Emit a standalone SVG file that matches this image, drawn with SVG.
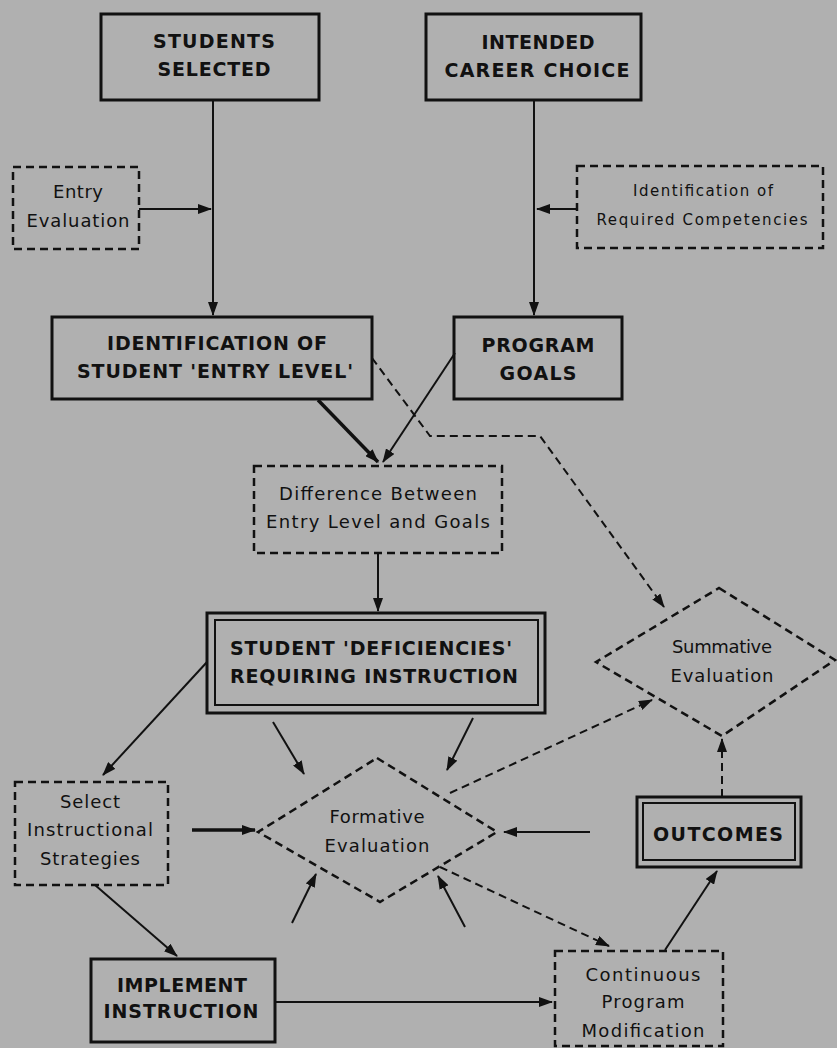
<svg xmlns="http://www.w3.org/2000/svg" width="837" height="1048" viewBox="0 0 837 1048">
<style>
.bg{fill:#b0b0b0}
.box{fill:none;stroke:#111;stroke-width:3}
.dbox{fill:none;stroke:#111;stroke-width:2.5;stroke-dasharray:8 5}
.in{fill:none;stroke:#111;stroke-width:2}
.c{fill:none;stroke:#111;stroke-width:2;marker-end:url(#ah)}
.ct{fill:none;stroke:#111;stroke-width:3.5;marker-end:url(#ah)}
.cd{fill:none;stroke:#111;stroke-width:2;stroke-dasharray:8 5;marker-end:url(#ah)}
text{font-family:"DejaVu Sans","Liberation Sans",sans-serif;fill:#111;text-anchor:middle}
.up{font-size:19px;font-weight:bold}
.lo{font-size:18px}
.sm{font-size:15px}
</style>
<defs>
<marker id="ah" markerUnits="userSpaceOnUse" markerWidth="14" markerHeight="10" refX="13" refY="5" orient="auto">
<path d="M0,0 L14,5 L0,10 z" fill="#111"/>
</marker>
</defs>
<rect class="bg" x="0" y="0" width="837" height="1048"/>

<g id="connectors">
<path class="c" d="M213,100 V315"/>
<path class="c" d="M139,209 H211"/>
<path class="c" d="M534,100 V315"/>
<path class="c" d="M577,209 H537"/>
<path class="ct" d="M318,400 L378,462"/>
<path class="c" d="M455,353 L383,462"/>
<path class="c" d="M378,553 V611"/>
<path class="c" d="M207,662 L103,775"/>
<path class="c" d="M95,885 L177,956"/>
<path class="c" d="M275,1002 H552"/>
<path class="ct" d="M192,830 H255"/>
<path class="c" d="M590,832 H504"/>
<path class="c" d="M273,722 L304,774"/>
<path class="c" d="M473,718 L447,770"/>
<path class="c" d="M292,923 L316,874"/>
<path class="c" d="M465,927 L438,876"/>
<path class="c" d="M665,950 L717,871"/>
<path class="cd" d="M372,358 L430,436 H540 L664,607"/>
<path class="cd" d="M450,793 L652,700"/>
<path class="cd" d="M440,867 L609,946"/>
<path class="cd" d="M722,797 V739"/>
</g>

<g id="students-selected">
<rect class="box" x="101" y="14" width="218" height="86"/>
<text class="up" x="214" y="48" textLength="122">STUDENTS</text>
<text class="up" x="214" y="76" textLength="113">SELECTED</text>
</g>

<g id="intended-career">
<rect class="box" x="426" y="14" width="215" height="86"/>
<text class="up" x="538" y="49" textLength="113">INTENDED</text>
<text class="up" x="537" y="77" textLength="185">CAREER CHOICE</text>
</g>

<g id="entry-evaluation">
<rect class="dbox" x="13" y="167" width="126" height="82"/>
<text class="lo" x="78" y="198" textLength="50">Entry</text>
<text class="lo" x="78" y="227" textLength="103">Evaluation</text>
</g>

<g id="required-competencies">
<rect class="dbox" x="577" y="166" width="246" height="82"/>
<text class="sm" x="703" y="196" textLength="140">Identification of</text>
<text class="sm" x="702" y="225" textLength="211">Required Competencies</text>
</g>

<g id="entry-level">
<rect class="box" x="52" y="317" width="320" height="82"/>
<text class="up" x="217" y="350" textLength="220">IDENTIFICATION OF</text>
<text class="up" x="215" y="378" textLength="276">STUDENT 'ENTRY LEVEL'</text>
</g>

<g id="program-goals">
<rect class="box" x="454" y="317" width="168" height="82"/>
<text class="up" x="538" y="352" textLength="113">PROGRAM</text>
<text class="up" x="538" y="380" textLength="77">GOALS</text>
</g>

<g id="difference">
<rect class="dbox" x="254" y="466" width="248" height="87"/>
<text class="lo" x="378" y="500" textLength="198">Difference Between</text>
<text class="lo" x="378" y="528" textLength="224">Entry Level and Goals</text>
</g>

<g id="deficiencies">
<rect class="box" x="207" y="613" width="338" height="100"/>
<rect class="in" x="215" y="620" width="323" height="85"/>
<text class="up" x="371" y="655" textLength="282">STUDENT 'DEFICIENCIES'</text>
<text class="up" x="374" y="683" textLength="288">REQUIRING INSTRUCTION</text>
</g>

<g id="summative">
<path class="dbox" d="M719,588 L835,660 L722,736 L596,662 Z"/>
<text class="lo" x="722" y="653" textLength="100">Summative</text>
<text class="lo" x="722" y="682" textLength="103">Evaluation</text>
</g>

<g id="formative">
<path class="dbox" d="M377,758 L497,832 L380,902 L258,832 Z"/>
<text class="lo" x="377" y="823" textLength="95">Formative</text>
<text class="lo" x="377" y="852" textLength="105">Evaluation</text>
</g>

<g id="select-strategies">
<rect class="dbox" x="15" y="782" width="153" height="103"/>
<text class="lo" x="90" y="808" textLength="60">Select</text>
<text class="lo" x="90" y="836" textLength="126">Instructional</text>
<text class="lo" x="90" y="865" textLength="100">Strategies</text>
</g>

<g id="outcomes">
<rect class="box" x="637" y="797" width="164" height="70"/>
<rect class="in" x="643" y="803" width="152" height="57"/>
<text class="up" x="718" y="841" textLength="130">OUTCOMES</text>
</g>

<g id="implement">
<rect class="box" x="91" y="959" width="184" height="83"/>
<text class="up" x="182" y="992" textLength="130">IMPLEMENT</text>
<text class="up" x="181" y="1018" textLength="155">INSTRUCTION</text>
</g>

<g id="continuous">
<rect class="dbox" x="555" y="951" width="168" height="95"/>
<text class="lo" x="643" y="981" textLength="115">Continuous</text>
<text class="lo" x="643" y="1008" textLength="83">Program</text>
<text class="lo" x="643" y="1037" textLength="123">Modification</text>
</g>
</svg>
